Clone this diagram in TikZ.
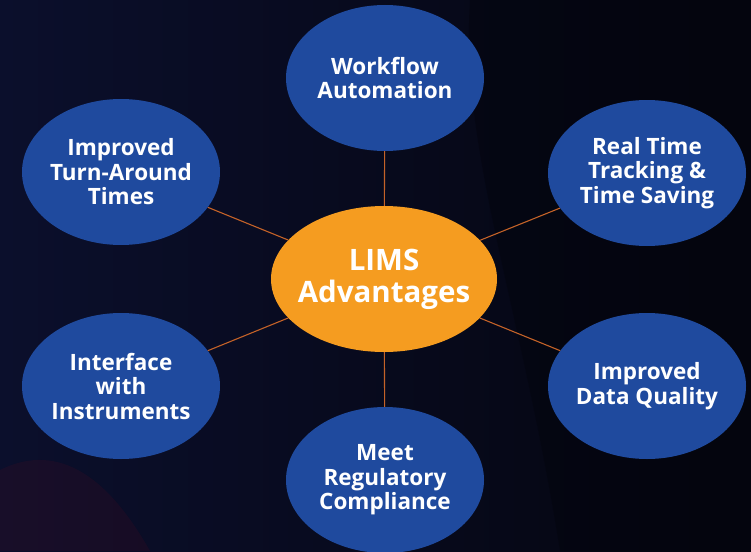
\documentclass[tikz,border=0pt]{standalone}
\usepackage{fontspec}
\setmainfont{Open Sans}
\usetikzlibrary{shapes.geometric}
\definecolor{bgnavy}{RGB}{11,15,44}
\definecolor{bgdark}{RGB}{4,5,14}
\definecolor{limsblue}{RGB}{31,74,158}
\definecolor{limsorange}{RGB}{245,156,32}
\definecolor{spoke}{RGB}{196,98,40}
\tikzset{
	benefit/.style={ellipse, fill=limsblue, text=white, minimum width=198pt, minimum height=146pt, inner xsep=-20pt, inner ysep=0pt, align=center, font=\bfseries\fontsize{22.5}{24.5}\selectfont},
	hub/.style={ellipse, fill=limsorange, text=white, minimum width=226pt, minimum height=146pt, inner xsep=-25pt, inner ysep=0pt, align=center, font=\bfseries\fontsize{29.5}{32}\selectfont},
	spokeline/.style={spoke, line width=1.1pt}
}

\begin{document}
\begin{tikzpicture}[x=1pt, y=-1pt]
			%%%%% START %%%%%
			\useasboundingbox (0, 0) rectangle (751, 551);
			\shade[left color=bgnavy, right color=bgdark, shading angle=90] (0, 0) rectangle (751, 551);
			\fill[bgdark, opacity=0.5] (470, 0) -- (751, 0) -- (751, 551) -- (560, 551) .. controls (520, 300) and (460, 150) .. (470, 0);
			\fill[red!30!bgnavy, opacity=0.18] (0, 470) .. controls (60, 440) and (110, 480) .. (150, 551) -- (0, 551) -- cycle;
			
			\node[hub] (lims) at (384, 279) {LIMS\\Advantages};
			
			\node[benefit] (workflow) at (385, 78) {Workflow\\Automation};
			\node[benefit] (turnaround) at (121, 172) {Improved\\Turn-Around\\Times};
			\node[benefit] (realtime) at (647, 173) {Real Time\\Tracking \&\\Time Saving};
			\node[benefit] (instruments) at (121, 386) {Interface\\with\\Instruments};
			\node[benefit] (quality) at (647, 386) {Improved\\Data Quality};
			\node[benefit] (compliance) at (385, 480) {Meet\\Regulatory\\Compliance};
			
			\foreach \n in {workflow, turnaround, realtime, instruments, quality, compliance}
				\draw[spokeline] (lims) -- (\n);
			%%%%% END %%%%%
\end{tikzpicture}
\end{document}
